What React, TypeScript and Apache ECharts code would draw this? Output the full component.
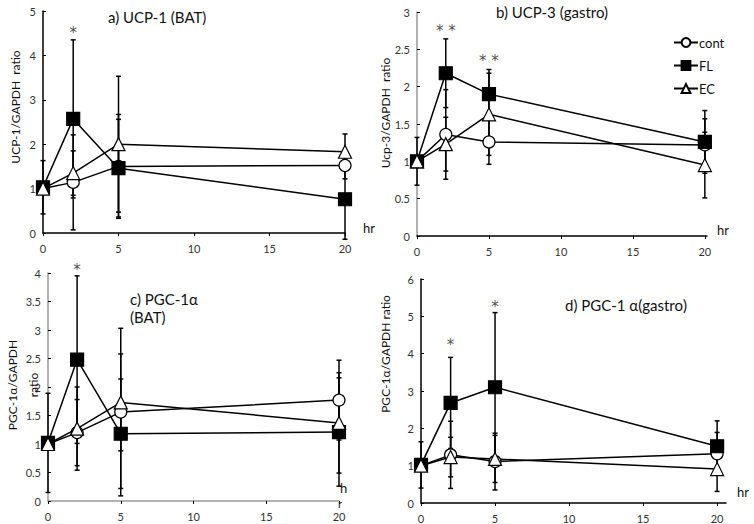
import React, { useEffect, useRef } from "react";
import * as echarts from "echarts";

const hours = [0, 2, 5, 20];
const seriesNames = ["cont", "FL", "EC"];

// a) UCP-1 (BAT)
const ucp1Cont = [1.0, 1.14, 1.5, 1.52];
const ucp1ContErr = [0, 1.07, 1.17, 0.3];
const ucp1FL = [1.03, 2.57, 1.46, 0.76];
const ucp1FLErr = [0.6, 1.78, 1.1, 0.9];
const ucp1EC = [1.0, 1.35, 2.0, 1.83];
const ucp1ECErr = [0, 0.5, 1.53, 0.4];

// b) UCP-3 (gastro)
const ucp3Cont = [1.0, 1.36, 1.26, 1.22];
const ucp3ContErr = [0, 0.6, 0.3, 0.35];
const ucp3FL = [1.0, 2.18, 1.9, 1.26];
const ucp3FLErr = [0.32, 0.46, 0.33, 0.42];
const ucp3EC = [1.0, 1.23, 1.63, 0.95];
const ucp3ECErr = [0, 0.36, 0.55, 0.44];

// c) PGC-1α (BAT)
const pgcBatCont = [1.0, 1.2, 1.56, 1.77];
const pgcBatContErr = [0, 0.58, 1.47, 0.7];
const pgcBatFL = [1.02, 2.48, 1.18, 1.21];
const pgcBatFLErr = [0.87, 1.47, 0.96, 0.95];
const pgcBatEC = [1.0, 1.27, 1.73, 1.37];
const pgcBatECErr = [0, 0.73, 0.85, 0.88];

// d) PGC-1α (gastro)
const pgcGasCont = [1.0, 1.29, 1.11, 1.32];
const pgcGasContErr = [0, 0.9, 0.76, 0.57];
const pgcGasFL = [1.02, 2.68, 3.1, 1.52];
const pgcGasFLErr = [0.62, 1.22, 2.0, 0.68];
const pgcGasEC = [1.0, 1.23, 1.18, 0.91];
const pgcGasECErr = [0, 0.53, 0.63, 0.6];

// significance marks [x, y, text]
const starsA: [number, number, string][] = [[2, 4.5, "*"]];
const starsB: [number, number, string][] = [[2, 2.74, "* *"], [5, 2.34, "* *"]];
const starsC: [number, number, string][] = [[2, 4.05, "*"]];
const starsD: [number, number, string][] = [[2, 4.22, "*"], [5, 5.26, "*"]];

const xTicks = [0, 5, 10, 15, 20];

const FONT = "Lato, 'Noto Sans', sans-serif";

type Panel = {
  cont: number[]; contErr: number[];
  fl: number[]; flErr: number[];
  ec: number[]; ecErr: number[];
  stars: [number, number, string][];
  yMax: number; yInterval: number; xMax: number;
  grid: { left: number; top: number; width: number; height: number };
  yAxisColor: string; xAxisColor: string;
};

const panels: Panel[] = [
  { cont: ucp1Cont, contErr: ucp1ContErr, fl: ucp1FL, flErr: ucp1FLErr, ec: ucp1EC, ecErr: ucp1ECErr,
    stars: starsA, yMax: 5, yInterval: 1, xMax: 20,
    grid: { left: 43, top: 11, width: 302, height: 222 }, yAxisColor: "#000", xAxisColor: "#000" },
  { cont: ucp3Cont, contErr: ucp3ContErr, fl: ucp3FL, flErr: ucp3FLErr, ec: ucp3EC, ecErr: ucp3ECErr,
    stars: starsB, yMax: 3, yInterval: 0.5, xMax: 20.15,
    grid: { left: 417, top: 12, width: 290, height: 224 }, yAxisColor: "#999", xAxisColor: "#000" },
  { cont: pgcBatCont, contErr: pgcBatContErr, fl: pgcBatFL, flErr: pgcBatFLErr, ec: pgcBatEC, ecErr: pgcBatECErr,
    stars: starsC, yMax: 4, yInterval: 0.5, xMax: 20,
    grid: { left: 48, top: 273, width: 291, height: 228 }, yAxisColor: "#999", xAxisColor: "#999" },
  { cont: pgcGasCont, contErr: pgcGasContErr, fl: pgcGasFL, flErr: pgcGasFLErr, ec: pgcGasEC, ecErr: pgcGasECErr,
    stars: starsD, yMax: 6, yInterval: 1, xMax: 20.6,
    grid: { left: 421, top: 279, width: 305, height: 224 }, yAxisColor: "#000", xAxisColor: "#000" },
];

function errRender(params: any, api: any) {
  const x = api.value(0);
  const y = api.value(1);
  const e = api.value(2);
  if (!e) return { type: "group", children: [] };
  const top = api.coord([x, y + e]);
  const bot = api.coord([x, y - e]);
  const w = 2.5;
  const st = { stroke: "#000", lineWidth: 1.5 };
  return {
    type: "group",
    children: [
      { type: "line", shape: { x1: top[0], y1: top[1], x2: bot[0], y2: bot[1] }, style: st },
      { type: "line", shape: { x1: top[0] - w, y1: top[1], x2: top[0] + w, y2: top[1] }, style: st },
      { type: "line", shape: { x1: bot[0] - w, y1: bot[1], x2: bot[0] + w, y2: bot[1] }, style: st },
    ],
  };
}

const symbolFor: Record<string, any> = {
  cont: { symbol: "circle", size: 12, fill: "#fff" },
  FL: { symbol: "rect", size: 13, fill: "#000" },
  EC: { symbol: "triangle", size: 13, fill: "#fff" },
};

function buildOption() {
  const grid: any[] = [];
  const xAxis: any[] = [];
  const yAxis: any[] = [];
  const series: any[] = [];
  panels.forEach((p, i) => {
    grid.push({ ...p.grid, containLabel: false });
    xAxis.push({
      type: "value", gridIndex: i, min: 0, max: p.xMax, interval: 5,
      axisLine: { lineStyle: { color: p.xAxisColor, width: 1.5 } },
      axisTick: { show: true, length: 3, customValues: xTicks, lineStyle: { color: "#000" } },
      axisLabel: { customValues: xTicks, color: "#333", fontSize: 11, fontFamily: FONT, margin: 10 },
      splitLine: { show: false },
    });
    yAxis.push({
      type: "value", gridIndex: i, min: 0, max: p.yMax, interval: p.yInterval,
      axisLine: { show: true, lineStyle: { color: p.yAxisColor, width: 1.5 } },
      axisTick: { show: true, length: 3, inside: true, lineStyle: { color: "#000" } },
      axisLabel: { color: "#333", fontSize: 11, fontFamily: FONT, margin: 7 },
      splitLine: { show: false },
    });
    const groups: [string, number[], number[]][] = [
      ["cont", p.cont, p.contErr],
      ["FL", p.fl, p.flErr],
      ["EC", p.ec, p.ecErr],
    ];
    groups.forEach(([name, vals, errs]) => {
      series.push({
        type: "custom", name: name + "-err", xAxisIndex: i, yAxisIndex: i, z: 1,
        renderItem: errRender, silent: true,
        data: hours.map((h, k) => [h, vals[k], errs[k]]),
      });
    });
    groups.forEach(([name, vals]) => {
      const s = symbolFor[name];
      series.push({
        type: "line", name, xAxisIndex: i, yAxisIndex: i, z: 3,
        symbol: s.symbol, symbolSize: s.size, showAllSymbol: true,
        lineStyle: { color: "#000", width: 1.5 },
        itemStyle: { color: s.fill, borderColor: "#000", borderWidth: 1.2 },
        data: hours.map((h, k) => [h, vals[k]]),
      });
    });
    series.push({
      type: "scatter", xAxisIndex: i, yAxisIndex: i, symbolSize: 1, clip: false, silent: true,
      itemStyle: { color: "rgba(0,0,0,0)" },
      label: {
        show: true, position: "top", distance: -8, formatter: (d: any) => d.data.name,
        fontSize: 15, color: "#222", fontFamily: "'DejaVu Sans', sans-serif",
      },
      data: p.stars.map((s) => ({ value: [s[0], s[1]], name: s[2] })),
    });
  });

  const txt = (x: number, y: number, text: string, fontSize: number, align = "left", rot = 0) => ({
    type: "text", x, y, rotation: rot, z: 10,
    style: { text, fontSize, fontFamily: FONT, fill: "#111", align, verticalAlign: "middle" },
  });

  const graphic = [
    txt(108, 17, "a) UCP-1 (BAT)", 15),
    txt(496, 12, "b) UCP-3 (gastro)", 15),
    txt(130, 299, "c) PGC-1α", 15),
    txt(130, 317, "(BAT)", 15),
    txt(565, 305, "d) PGC-1 α(gastro)", 15),
    txt(15, 107, "UCP-1/GAPDH  ratio", 12, "center", Math.PI / 2),
    txt(385, 113, "Ucp-3/GAPDH  ratio", 12, "center", Math.PI / 2),
    txt(12, 385, "PGC-1α/GAPDH", 12, "center", Math.PI / 2),
    txt(33, 385, "ratio", 12, "center", Math.PI / 2),
    txt(385, 354, "PGC-1α/GAPDH ratio", 12, "center", Math.PI / 2),
    txt(363, 228, "hr", 13),
    txt(717, 230, "hr", 13),
    txt(737, 492, "hr", 13),
    txt(340, 488, "h", 13),
    txt(338, 503, "r", 11),
  ];

  return {
    animation: false,
    backgroundColor: "#fff",
    textStyle: { fontFamily: FONT },
    legend: {
      data: seriesNames, orient: "vertical", left: 668, top: 31,
      itemWidth: 24, itemHeight: 11, itemGap: 10,
      textStyle: { fontSize: 13, color: "#111", fontFamily: FONT, padding: [0, 0, 0, -4] },
    },
    grid, xAxis, yAxis, series, graphic,
  };
}

export default function App() {
  const ref = useRef<HTMLDivElement>(null);
  useEffect(() => {
    if (!ref.current) return;
    const chart = echarts.init(ref.current, undefined, { renderer: "svg" });
    chart.setOption(buildOption() as any);
    return () => chart.dispose();
  }, []);
  return (
    <div
      ref={ref}
      style={{ position: "absolute", left: 0, top: 0, width: 754, height: 524, background: "#fff" }}
    />
  );
}
